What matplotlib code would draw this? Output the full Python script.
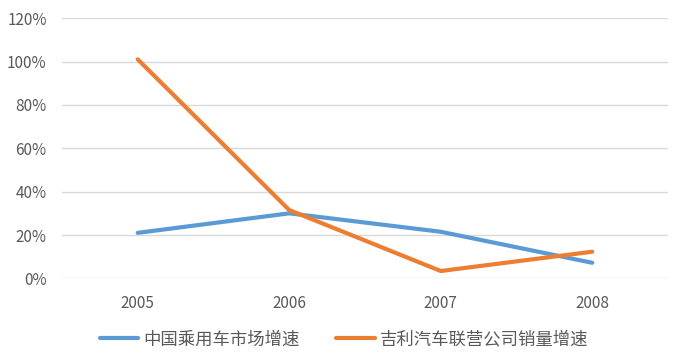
import matplotlib
matplotlib.use("Agg")
import matplotlib.pyplot as plt
from matplotlib.ticker import PercentFormatter

plt.rcParams['font.family'] = ['Noto Sans CJK SC', 'DejaVu Sans']

# data
years = ['2005', '2006', '2007', '2008']
market_growth = [0.21, 0.30, 0.215, 0.072]
geely_growth = [1.01, 0.315, 0.034, 0.123]
labels = ['中国乘用车市场增速', '吉利汽车联营公司销量增速']

blue = '#5B9BD5'
orange = '#ED7D31'
grey = '#595959'

fig = plt.figure(figsize=(6.79, 3.56), dpi=100)
ax = fig.add_axes([0.0913, 0.218, 0.8925, 0.731])

x = range(len(years))
ax.plot(x, market_growth, color=blue, lw=3, solid_capstyle='round',
        solid_joinstyle='round', label=labels[0], zorder=3)
ax.plot(x, geely_growth, color=orange, lw=3, solid_capstyle='round',
        solid_joinstyle='round', label=labels[1], zorder=3)

ax.set_xlim(-0.5, len(years) - 0.5)
ax.set_ylim(0, 1.2)
ax.set_yticks([0, 0.2, 0.4, 0.6, 0.8, 1.0, 1.2])
ax.yaxis.set_major_formatter(PercentFormatter(1.0, decimals=0))
ax.set_xticks(list(x))
ax.set_xticklabels(years)

ax.grid(axis='y', color='#D9D9D9', lw=1)
ax.set_axisbelow(True)
for s in ax.spines.values():
    s.set_visible(False)
ax.tick_params(length=0, labelsize=11, colors=grey)
ax.tick_params(axis='x', pad=12)
ax.tick_params(axis='y', pad=11)

leg = fig.legend(loc='center', bbox_to_anchor=(0.507, 0.047), ncol=2,
                 frameon=False, fontsize=12.5, handlelength=2.2,
                 columnspacing=2.1, handletextpad=0.3)
for t in leg.get_texts():
    t.set_color(grey)

fig.savefig('out.png', dpi=100)
